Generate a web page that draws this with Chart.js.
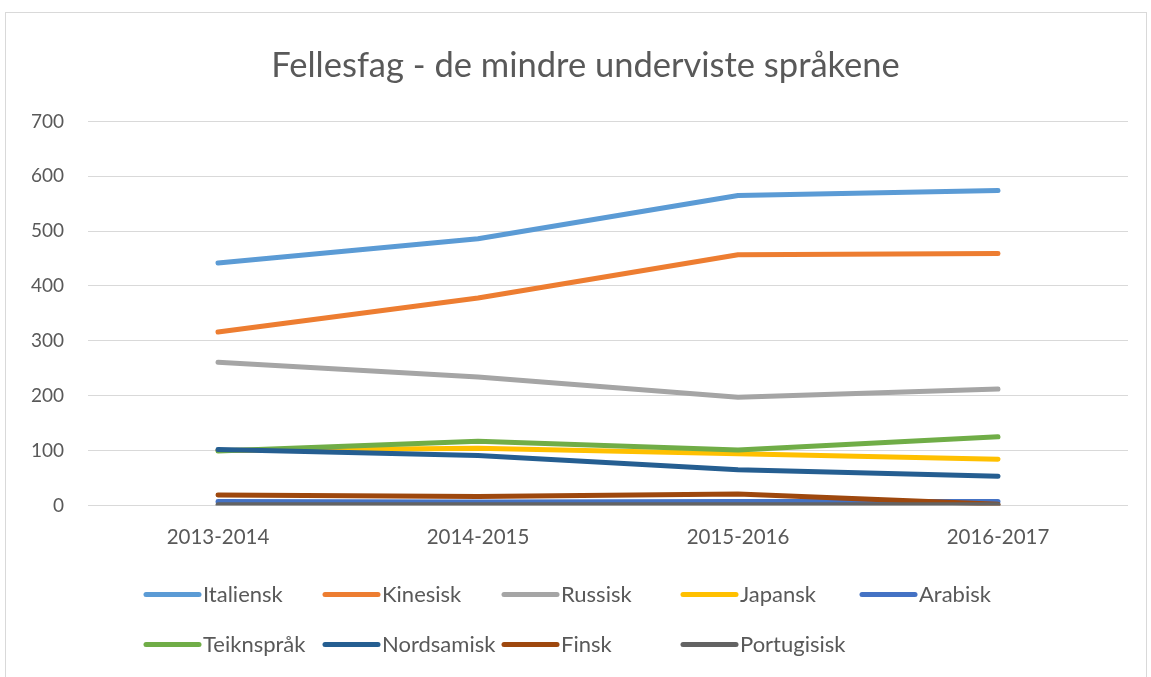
<!DOCTYPE html>
<html><head><meta charset="utf-8">
<script src="https://cdn.jsdelivr.net/npm/chart.js@4.4.0/dist/chart.umd.min.js"></script>
<style>html,body{margin:0;padding:0;background:#fff;} #wrap{width:1151px;height:677px;position:relative;}</style>
</head><body><div id="wrap"><canvas id="c" width="1151" height="677"></canvas></div>
<script>
const categories = ['2013-2014', '2014-2015', '2015-2016', '2016-2017'];
const italiensk   = [442, 486, 565, 574];
const kinesisk    = [316, 378, 457, 459];
const russisk     = [261, 234, 197, 212];
const japansk     = [100, 104, 94, 84];
const arabisk     = [7, 6, 7, 7];
const teiknsprak  = [99, 117, 101, 125];
const nordsamisk  = [102, 91, 65, 53];
const finsk       = [19, 16, 21, 2];
const portugisisk = [1, 1, 1, 1];
const seriesNames = ['Italiensk', 'Kinesisk', 'Russisk', 'Japansk', 'Arabisk', 'Teikn\u0073pr\u00e5k', 'Nordsamisk', 'Finsk', 'Portugisisk'];
const seriesData = [italiensk, kinesisk, russisk, japansk, arabisk, teiknsprak, nordsamisk, finsk, portugisisk];
const seriesColors = ['#5B9BD5', '#ED7D31', '#A5A5A5', '#FFC000', '#4472C4', '#70AD47', '#255E91', '#9E480E', '#636363'];
const yTicks = [0, 100, 200, 300, 400, 500, 600, 700];
const titleText = 'Fellesfag - de mindre underviste spr\u00e5kene';

const FONT = 'Lato';
const TXT = '#595959';

const datasets = seriesNames.map((n, i) => ({
  label: n,
  data: seriesData[i],
  borderColor: seriesColors[i],
  backgroundColor: seriesColors[i],
  borderWidth: 5,
  borderCapStyle: 'round',
  borderJoinStyle: 'round',
  pointRadius: 0,
  tension: 0,
  fill: false,
  yAxisID: 'y',
  order: seriesNames.length - i
}));

const gridLegend = {
  id: 'gridLegend',
  beforeDraw(chart) {
    const ctx = chart.ctx;
    ctx.save();
    ctx.strokeStyle = '#d9d9d9';
    ctx.lineWidth = 1;
    ctx.strokeRect(5.5, 12.5, 1141, 700);
    ctx.restore();
  },
  afterDraw(chart) {
    const ctx = chart.ctx;
    const ca = chart.chartArea;
    const x0 = ca.left + 58, colW = 179, cols = 5;
    const rows = [ca.bottom + 89, ca.bottom + 139];
    ctx.save();
    ctx.font = '22px ' + FONT;
    ctx.textBaseline = 'middle';
    ctx.fillStyle = TXT;
    chart.data.datasets.forEach((ds, i) => {
      const x = x0 + (i % cols) * colW;
      const y = rows[Math.floor(i / cols)];
      ctx.strokeStyle = ds.borderColor;
      ctx.lineWidth = 5;
      ctx.lineCap = 'round';
      ctx.beginPath();
      ctx.moveTo(x, y);
      ctx.lineTo(x + 53, y);
      ctx.stroke();
      ctx.fillText(ds.label, x + 57, y + 1);
    });
    ctx.restore();
  }
};

new Chart(document.getElementById('c'), {
  type: 'line',
  data: { labels: categories, datasets },
  plugins: [gridLegend],
  options: {
    responsive: false,
    animation: false,
    devicePixelRatio: 1,
    layout: { padding: { left: 20, right: 0, top: 0, bottom: 115 } },
    plugins: {
      legend: { display: false },
      tooltip: { enabled: false },
      title: {
        display: true,
        text: titleText,
        color: TXT,
        font: { family: FONT, size: 34.5, weight: 'normal' },
        padding: { top: 45, bottom: 35 }
      }
    },
    scales: {
      x: {
        offset: true,
        grid: { display: false },
        border: { display: false },
        ticks: { color: TXT, font: { family: FONT, size: 20.5 }, padding: 12 }
      },
      y: {
        min: 0, max: 700,
        afterBuildTicks(scale) { scale.ticks = yTicks.map(v => ({ value: v })); },
        afterFit(scale) { scale.width = 68; },
        grid: { color: '#d9d9d9', lineWidth: 1, drawTicks: false },
        border: { display: false },
        ticks: { color: TXT, font: { family: FONT, size: 19 }, padding: 24 }
      },
      yr: {
        position: 'right',
        min: 0, max: 700,
        afterFit(scale) { scale.width = 23; },
        grid: { display: false, drawOnChartArea: false },
        border: { display: false },
        ticks: { display: false }
      }
    }
  }
});
</script>
</body></html>
